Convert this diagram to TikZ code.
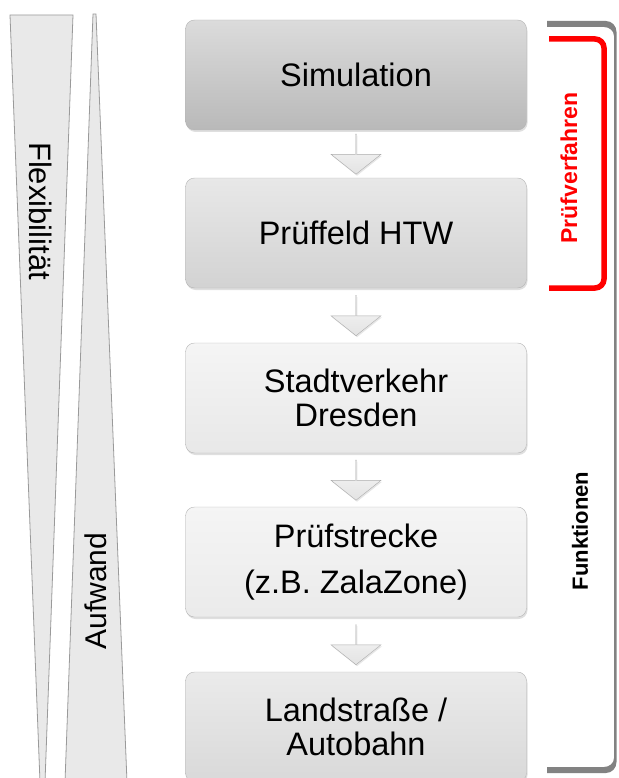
\documentclass[tikz,border=0pt]{standalone}
\usepackage{fontspec}
\setmainfont{Liberation Sans}
\usetikzlibrary{positioning,calc,shapes.arrows,shadows}
\definecolor{BoxEdge}{HTML}{B4B4B4}
\definecolor{WedgeFill}{HTML}{E9E9E9}
\definecolor{WedgeEdge}{HTML}{9A9A9A}
\definecolor{BracketGray}{HTML}{828282}
\definecolor{BracketRed}{HTML}{FF0000}

\tikzset{
	stage/.style={
		draw=BoxEdge,
		rounded corners=9pt,
		minimum width=341pt,
		minimum height=110pt,
		align=center,
		font=\fontsize{32.5}{34}\selectfont,
		drop shadow={opacity=0.25,shadow xshift=1pt,shadow yshift=-2pt}
	},
	downarrow/.style={
		single arrow,
		shape border rotate=270,
		draw=gray!65,
		top color=gray!5,
		bottom color=gray!22,
		minimum width=50pt,
		minimum height=40pt,
		single arrow head extend=10pt,
		single arrow head indent=0pt,
		single arrow tip angle=103,
		inner sep=0pt,
		drop shadow={opacity=0.2,shadow xshift=1pt,shadow yshift=-1.5pt}
	},
	wedge/.style={
		draw=WedgeEdge,
		fill=WedgeFill,
		line width=0.8pt
	}
}

\begin{document}
\begin{tikzpicture}[x=1pt,y=-1pt]
	\useasboundingbox (0,0) rectangle (618,778);
	
	% Keile links
	\draw[wedge] (10,15) -- (73,15) -- (45,782) -- (40,782) -- cycle;
	\draw[wedge] (93,14) -- (96,14) -- (127,782) -- (65,782) -- cycle;
	\node[rotate=-90,font=\fontsize{31}{32}\selectfont] (flex) at (41,211) {Flexibilität};
	\node[rotate=90,font=\fontsize{30}{31}\selectfont] (aufw) at (96,591) {Aufwand};
	
	% Stufen
	\node[stage,top color=gray!28,bottom color=gray!55] (sim) at (356,75) {Simulation};
	\node[stage,top color=gray!18,bottom color=gray!35] (htw) at (356,233) {Prüffeld HTW};
	\node[stage,top color=gray!8,bottom color=gray!18] (dd) at (356,398) {Stadtverkehr\\Dresden};
	\node[stage,top color=gray!8,bottom color=gray!16] (zala) at (356,562) {Prüfstrecke\\[12pt](z.B. ZalaZone)};
	\node[stage,top color=gray!16,bottom color=gray!30] (bahn) at (356,727) {Landstraße /\\Autobahn};
	
	% Pfeile
	\node[downarrow] (a1) at ($(sim.south)!0.5!(htw.north)$) {};
	\node[downarrow] (a2) at ($(htw.south)!0.5!(dd.north)$) {};
	\node[downarrow] (a3) at ($(dd.south)!0.5!(zala.north)$) {};
	\node[downarrow] (a4) at ($(zala.south)!0.5!(bahn.north)$) {};
	
	% Klammern rechts
	\fill[BracketGray] (547,21) -- (606,21) to[out=0,in=90] (616.5,32) -- (616.5,762)
		to[out=-90,in=0] (606,773) -- (547,773) -- (547,767) -- (604,767)
		to[out=0,in=-90] (614,758) -- (614,36) to[out=90,in=0] (604,27) -- (547,27) -- cycle;
	\draw[BracketRed,line width=5.5pt,rounded corners=9pt] (549,39) -- (604,39) -- (604,288) -- (549,288);
	\node[rotate=90,text=BracketRed,font=\fontsize{23}{24}\selectfont\bfseries] (pruef) at (569,168) {Prüfverfahren};
	\node[rotate=90,font=\fontsize{22}{23}\selectfont\bfseries] (funk) at (580,531) {Funktionen};
\end{tikzpicture}
\end{document}
